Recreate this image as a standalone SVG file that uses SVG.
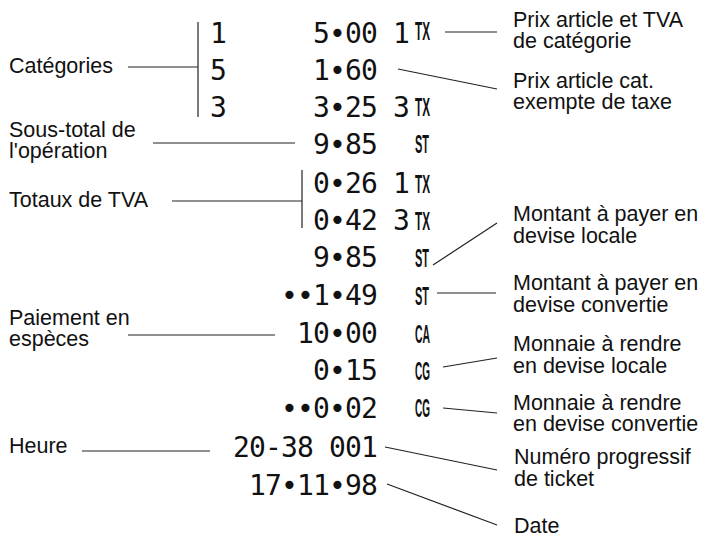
<svg xmlns="http://www.w3.org/2000/svg" width="704" height="540" viewBox="0 0 704 540">
<style>
.lbl{font-family:"Liberation Sans",Arial,sans-serif;font-size:21.5px;fill:#111}
.rc{font-family:"DejaVu Sans Mono",monospace;font-size:28px;letter-spacing:-0.85px;fill:#111}
.amt{text-anchor:end}
.tag{font-family:"Liberation Sans",Arial,sans-serif;font-weight:bold;font-size:26px;fill:#111}
.ln{stroke:#222;stroke-width:1.2;fill:none}
</style>
<rect width="704" height="540" fill="#fff"/>
<g id="receipt">
<text class="rc" x="210" y="43">1</text>
<text class="rc" x="210" y="80">5</text>
<text class="rc" x="210" y="117">3</text>
<text class="rc amt" x="377" y="43">5•00</text>
<text class="rc" x="393" y="43">1</text>
<text class="tag" x="415" y="40" textLength="15" lengthAdjust="spacingAndGlyphs">TX</text>
<text class="rc amt" x="377" y="80">1•60</text>
<text class="rc amt" x="377" y="117">3•25</text>
<text class="rc" x="393" y="117">3</text>
<text class="tag" x="415" y="116" textLength="15" lengthAdjust="spacingAndGlyphs">TX</text>
<text class="rc amt" x="377" y="154">9•85</text>
<text class="tag" x="415" y="153" textLength="14" lengthAdjust="spacingAndGlyphs">ST</text>
<text class="rc amt" x="377" y="193">0•26</text>
<text class="rc" x="393" y="193">1</text>
<text class="tag" x="415" y="193" textLength="15" lengthAdjust="spacingAndGlyphs">TX</text>
<text class="rc amt" x="377" y="230">0•42</text>
<text class="rc" x="393" y="230">3</text>
<text class="tag" x="415" y="230" textLength="15" lengthAdjust="spacingAndGlyphs">TX</text>
<text class="rc amt" x="377" y="267">9•85</text>
<text class="tag" x="415" y="267" textLength="14" lengthAdjust="spacingAndGlyphs">ST</text>
<text class="rc amt" x="377" y="305">••1•49</text>
<text class="tag" x="415" y="305" textLength="14" lengthAdjust="spacingAndGlyphs">ST</text>
<text class="rc amt" x="377" y="343">10•00</text>
<text class="tag" x="415" y="343" textLength="15" lengthAdjust="spacingAndGlyphs">CA</text>
<text class="rc amt" x="377" y="380">0•15</text>
<text class="tag" x="415" y="380" textLength="15" lengthAdjust="spacingAndGlyphs">CG</text>
<text class="rc amt" x="377" y="418">••0•02</text>
<text class="tag" x="415" y="417" textLength="15" lengthAdjust="spacingAndGlyphs">CG</text>
<text class="rc amt" x="377" y="457">20-38 001</text>
<text class="rc amt" x="377" y="495">17•11•98</text>
</g>
<g id="connectors">
<line class="ln" x1="198" y1="22" x2="198" y2="117"/>
<line class="ln" x1="128" y1="67" x2="198" y2="67"/>
<line class="ln" x1="153" y1="143" x2="295" y2="143"/>
<line class="ln" x1="302" y1="170" x2="302" y2="228"/>
<line class="ln" x1="172" y1="201" x2="302" y2="201"/>
<line class="ln" x1="128" y1="335" x2="275" y2="335"/>
<line class="ln" x1="82" y1="451" x2="210" y2="451"/>
<line class="ln" x1="445" y1="32" x2="497" y2="32"/>
<line class="ln" x1="398" y1="69" x2="497" y2="89"/>
<line class="ln" x1="433" y1="265" x2="497" y2="223"/>
<line class="ln" x1="437" y1="293" x2="496" y2="293"/>
<line class="ln" x1="443" y1="367" x2="497" y2="358"/>
<line class="ln" x1="443" y1="408" x2="497" y2="413"/>
<line class="ln" x1="385" y1="447" x2="497" y2="470"/>
<line class="ln" x1="387" y1="484" x2="497" y2="525"/>
</g>
<g id="label-categories"><text class="lbl" x="9" y="73">Catégories</text></g>
<g id="label-soustotal"><text class="lbl" x="9" y="137">Sous-total de</text><text class="lbl" x="9" y="158">l'opération</text></g>
<g id="label-totaux"><text class="lbl" x="9" y="207">Totaux de TVA</text></g>
<g id="label-paiement"><text class="lbl" x="9" y="325">Paiement en</text><text class="lbl" x="9" y="346">espèces</text></g>
<g id="label-heure"><text class="lbl" x="9" y="453">Heure</text></g>
<g id="label-prix-tva"><text class="lbl" x="513" y="27">Prix article et TVA</text><text class="lbl" x="513" y="48">de catégorie</text></g>
<g id="label-prix-exempt"><text class="lbl" x="513" y="88">Prix article cat.</text><text class="lbl" x="513" y="109">exempte de taxe</text></g>
<g id="label-montant-local"><text class="lbl" x="513" y="221">Montant à payer en</text><text class="lbl" x="513" y="243">devise locale</text></g>
<g id="label-montant-conv"><text class="lbl" x="513" y="290">Montant à payer en</text><text class="lbl" x="513" y="312">devise convertie</text></g>
<g id="label-monnaie-local"><text class="lbl" x="513" y="351">Monnaie à rendre</text><text class="lbl" x="513" y="373">en devise locale</text></g>
<g id="label-monnaie-conv"><text class="lbl" x="513" y="410">Monnaie à rendre</text><text class="lbl" x="513" y="431">en devise convertie</text></g>
<g id="label-numero"><text class="lbl" x="514" y="464">Numéro progressif</text><text class="lbl" x="514" y="486">de ticket</text></g>
<g id="label-date"><text class="lbl" x="514" y="533">Date</text></g>
</svg>
